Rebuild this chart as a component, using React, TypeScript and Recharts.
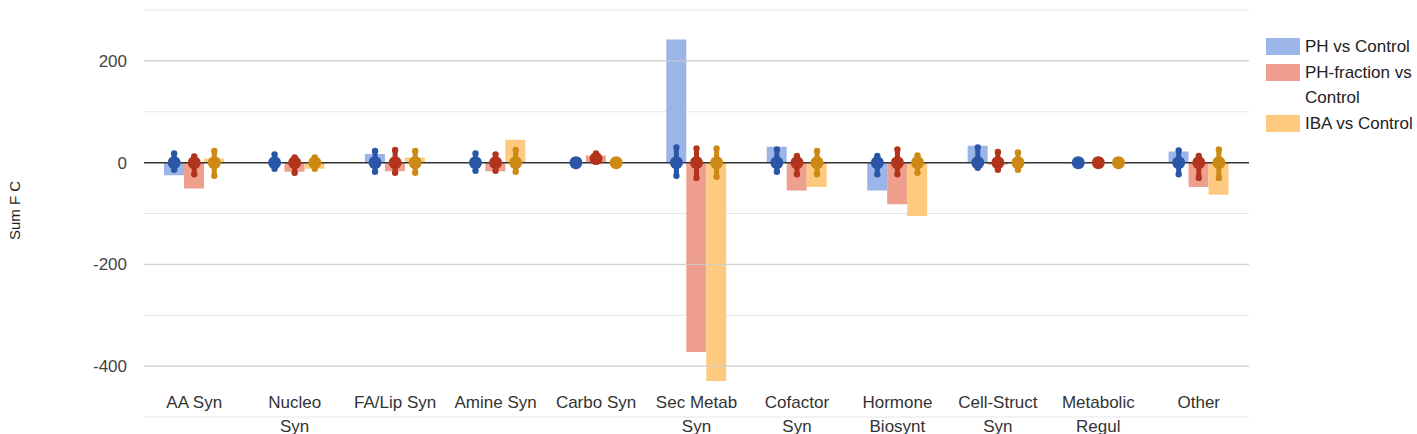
import React from 'react';
import { ComposedChart, Bar, Scatter, XAxis, YAxis, CartesianGrid, ReferenceLine, ErrorBar, Label } from 'recharts';

const categories = [
    'AA Syn', 'Nucleo Syn', 'FA/Lip Syn', 'Amine Syn', 'Carbo Syn', 'Sec Metab Syn',
    'Cofactor Syn', 'Hormone Biosynt', 'Cell-Struct Syn', 'Metabolic Regul', 'Other',
];
const tickLines = [
    ['AA Syn'], ['Nucleo', 'Syn'], ['FA/Lip Syn'], ['Amine Syn'], ['Carbo Syn'], ['Sec Metab', 'Syn'],
    ['Cofactor', 'Syn'], ['Hormone', 'Biosynt'], ['Cell-Struct', 'Syn'], ['Metabolic', 'Regul'], ['Other'],
];

// summed fold change per category (bars)
const phValues = [-25, 0, 17, 0, 0, 242, 31, -55, 33, 0, 22];
const fracValues = [-51, -18, -17, -17, 14, -372, -55, -82, -4, 0, -48];
const ibaValues = [8, -12, 10, 45, 0, -429, -48, -105, 0, 0, -63];

// point markers: centre, lowest and highest gene FC
const phMid = [0, 0, 0, 0, 0, 0, 0, 0, 0, 0, 0];
const phLo = [-14, -12, -18, -16, 0, -26, -18, -23, -10, 0, -23];
const phHi = [18, 16, 23, 18, 0, 30, 26, 13, 30, 0, 24];
const fracMid = [0, 0, 0, 0, 8, 0, 0, 0, 0, 0, 0];
const fracLo = [-23, -20, -20, -16, 3, -30, -23, -23, -14, 0, -30];
const fracHi = [12, 10, 25, 16, 18, 28, 13, 26, 21, 0, 13];
const ibaMid = [0, 0, 0, 0, 0, 0, 0, 0, 0, 0, 0];
const ibaLo = [-26, -12, -20, -18, 0, -28, -23, -20, -14, 0, -30];
const ibaHi = [23, 10, 23, 25, 0, 28, 23, 14, 20, 0, 26];

const yTicks = [300, 200, 100, 0, -100, -200, -300, -400, -500];
const yLabels = [200, 0, -200, -400];
const majorLines = [200, -200, -400];

const seriesNames = ['PH vs Control', 'PH-fraction vs Control', 'IBA vs Control'];
const barColors = ['#9bb5e8', '#ef9f8d', '#fdca80'];
const dotColors = ['#2a56a8', '#b3341c', '#cc8a14'];
const seriesOffsets = [-0.2, 0, 0.2];

const barData = categories.map((name, i) => ({
    name,
    ph: phValues[i],
    frac: fracValues[i],
    iba: ibaValues[i],
}));

const dotSets = [
    { mid: phMid, lo: phLo, hi: phHi },
    { mid: fracMid, lo: fracLo, hi: fracHi },
    { mid: ibaMid, lo: ibaLo, hi: ibaHi },
].map((s, k) => ({
    mid: categories.map((_, i) => ({ x: i + seriesOffsets[k], y: s.mid[i], err: [s.mid[i] - s.lo[i], s.hi[i] - s.mid[i]] })),
    ends: categories.flatMap((_, i) => [
        { x: i + seriesOffsets[k], y: s.lo[i] },
        { x: i + seriesOffsets[k], y: s.hi[i] },
    ]),
}));

const XTick = ({ x, y, payload }: any) => {
    const lines = tickLines[categories.indexOf(payload.value)] || [payload.value];
    return (
        <g>
            {lines.map((t, i) => (
                <text key={i} x={x} y={y - 11 + i * 23.5} textAnchor="middle" fill="#333" fontSize={17}>
                    {t}
                </text>
            ))}
        </g>
    );
};

const YTitle = ({ viewBox }: any) => {
    const cx = viewBox.x + 14;
    const cy = viewBox.y + viewBox.height / 2 - 3;
    return (
        <text x={cx} y={cy} transform={`rotate(-90 ${cx} ${cy})`} textAnchor="middle" dominantBaseline="central" fill="#222" fontSize={15}>
            Sum F C
        </text>
    );
};

const bigDot = (color: string) => (props: any) => <circle cx={props.cx} cy={props.cy} r={6.5} fill={color} />;
const smallDot = (color: string) => (props: any) => <circle cx={props.cx} cy={props.cy} r={3.2} fill={color} />;

export default function App() {
    return (
        <div style={{ position: 'relative', width: 1417, height: 434, fontFamily: '"Liberation Sans", Arial, sans-serif' }}>
            <style>{'body{margin:0}'}</style>
            <ComposedChart
                width={1417}
                height={434}
                data={barData}
                margin={{ top: 10, right: 168, bottom: 0, left: 0 }}
                barGap={0}
                barSize={20}
            >
                <CartesianGrid stroke="#e6e6e6" vertical={false} />
                {majorLines.map((v) => (
                    <ReferenceLine key={v} y={v} stroke="#cccccc" />
                ))}
                <XAxis dataKey="name" axisLine={false} tickLine={false} tickSize={0} height={17} tick={<XTick />} interval={0} />
                <XAxis xAxisId="num" dataKey="x" type="number" domain={[-0.5, 10.5]} allowDataOverflow hide />
                <YAxis
                    dataKey="y"
                    type="number"
                    domain={[-500, 300]}
                    ticks={yTicks}
                    interval={0}
                    allowDataOverflow
                    axisLine={false}
                    tickLine={false}
                    tickSize={0}
                    tickMargin={17}
                    width={144}
                    tick={{ fill: '#444', fontSize: 17 }}
                    tickFormatter={(v) => (yLabels.includes(v) ? String(v) : '')}
                >
                    <Label content={<YTitle />} />
                </YAxis>
                <Bar dataKey="ph" name={seriesNames[0]} fill={barColors[0]} isAnimationActive={false} />
                <Bar dataKey="frac" name={seriesNames[1]} fill={barColors[1]} isAnimationActive={false} />
                <Bar dataKey="iba" name={seriesNames[2]} fill={barColors[2]} isAnimationActive={false} />
                <ReferenceLine y={0} stroke="#333" strokeWidth={1.5} />
                {dotSets.map((s, k) => (
                    <Scatter
                        key={`e${k}`}
                        xAxisId="num"
                        data={s.ends}
                        shape={smallDot(dotColors[k])}
                        isAnimationActive={false}
                    />
                ))}
                {dotSets.map((s, k) => (
                    <Scatter
                        key={`m${k}`}
                        xAxisId="num"
                        data={s.mid}
                        shape={bigDot(dotColors[k])}
                        isAnimationActive={false}
                    >
                        <ErrorBar dataKey="err" direction="y" width={0} stroke={dotColors[k]} strokeWidth={5} isAnimationActive={false} />
                    </Scatter>
                ))}
            </ComposedChart>
            <div style={{ position: 'absolute', left: 1266, top: 34, width: 150, fontSize: 17, color: '#222', lineHeight: '25px' }}>
                {seriesNames.map((n, k) => (
                    <div key={n} style={{ display: 'flex', alignItems: 'flex-start', marginBottom: 1 }}>
                        <div style={{ width: 34, height: 17, background: barColors[k], marginTop: 4, flexShrink: 0 }} />
                        <div style={{ marginLeft: 5, width: 112 }}>{n}</div>
                    </div>
                ))}
            </div>
        </div>
    );
}
